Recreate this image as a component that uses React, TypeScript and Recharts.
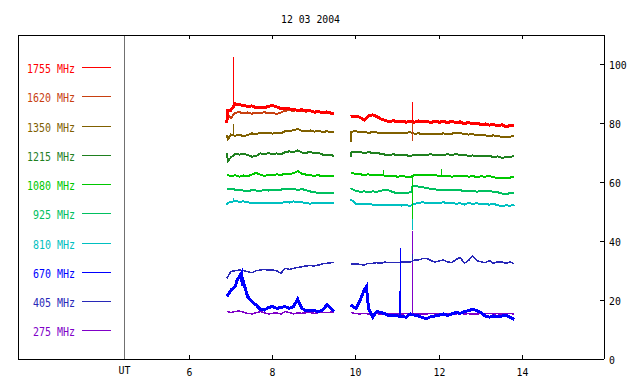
import React from 'react';
import { LineChart, Line, XAxis, YAxis, ReferenceLine, Legend } from 'recharts';

const TITLE = '12 03 2004';
const UT_LABEL = 'UT';
const UT_HOUR = 4.433;
const X_DOMAIN = [1.889, 15.952];
const X_TICKS = [6, 8, 10, 12, 14];
const Y_DOMAIN = [0, 110];
const Y_TICKS = [0, 20, 40, 60, 80, 100];
const GAP_HOUR = 9.67;

const hours1 = [6.9, 7.0, 7.1, 7.2, 7.3, 7.4, 7.5, 7.6, 7.7, 7.8, 7.9, 8.0, 8.1, 8.2, 8.3, 8.4, 8.5, 8.6, 8.7, 8.8, 8.9, 9.0, 9.1, 9.2, 9.3, 9.4, 9.47];
const hours2 = [9.87, 10.0, 10.1, 10.2, 10.3, 10.4, 10.5, 10.6, 10.7, 10.8, 10.9, 11.0, 11.1, 11.2, 11.3, 11.4, 11.5, 11.6, 11.7, 11.8, 11.9, 12.0, 12.1, 12.2, 12.3, 12.4, 12.5, 12.6, 12.7, 12.8, 12.9, 13.0, 13.1, 13.2, 13.3, 13.4, 13.5, 13.6, 13.7, 13.8];

// 1755 MHz
const f1755a = [80.0, 84.5, 86.6, 86.4, 86.0, 85.8, 85.9, 85.4, 85.5, 85.3, 85.8, 86.0, 85.6, 85.0, 85.2, 84.9, 84.7, 84.4, 84.6, 84.2, 84.3, 83.8, 84.0, 83.6, 83.9, 83.5, 83.1];
const f1755b = [82.3, 82.5, 82.0, 81.2, 82.6, 82.9, 82.3, 81.5, 81.0, 80.6, 80.9, 80.5, 80.8, 80.4, 80.7, 80.4, 80.8, 80.5, 80.6, 80.3, 80.7, 80.4, 80.6, 80.3, 80.7, 80.2, 80.5, 79.9, 80.3, 79.8, 80.1, 79.6, 79.8, 79.4, 79.6, 79.2, 79.5, 78.8, 79.3, 79.4];
const t1755 = [[6.92, 84.3]];
const s1755 = [[[7.05, 85.6], [7.056, 102.6], [7.062, 86.4]], [[11.345, 80.6], [11.35, 87.2], [11.355, 80.5]]];

// 1620 MHz
const f1620a = [83.5, 81.8, 83.6, 83.8, 83.4, 83.7, 83.3, 83.6, 83.5, 83.8, 83.4, 83.6, 83.2, 83.7, 84.3, 84.5, 84.2, 84.6, 84.3, 84.0, 84.2, 83.7, 83.9, 83.5, 83.7, 83.3, 83.0];
const f1620b = [null, null, null, null, null, null, null, null, null, null, null, null, null, null, null, null, null, null, null, null, null, null, null, null, null, null, null, null, null, null, null, null, null, null, null, null, null, null, null, null];
const t1620 = [];
const s1620 = [[[11.345, 80.4], [11.35, 74.1], [11.355, 80.4]]];

// 1350 MHz
const f1350a = [76.0, 76.2, 75.8, 76.1, 75.7, 76.0, 76.6, 76.3, 76.9, 76.6, 76.8, 76.5, 76.9, 76.7, 77.3, 77.5, 77.6, 78.1, 77.5, 77.3, 77.6, 77.2, 77.4, 77.1, 77.3, 77.0, 77.2];
const f1350b = [73.8, 77.3, 77.0, 77.1, 76.8, 77.0, 76.9, 76.7, 76.9, 76.6, 76.8, 76.7, 76.9, 76.8, 77.0, 76.5, 76.6, 76.4, 76.5, 76.3, 76.5, 76.4, 76.6, 76.4, 76.5, 76.9, 76.7, 76.4, 76.2, 76.3, 76.0, 76.1, 75.9, 75.8, 75.9, 75.6, 75.5, 75.2, 75.5, 75.7];
const t1350 = [[6.93, 74.7], [9.89, 77.2]];
const s1350 = [[[7.05, 76.1], [7.056, 79.8], [7.062, 76.0]]];

// 1215 MHz
const f1215a = [69.8, 68.5, 69.6, 69.4, 69.7, 69.3, 68.7, 68.9, 69.8, 69.5, 69.9, 69.6, 69.8, 69.5, 70.2, 70.5, 70.3, 70.8, 70.1, 70.0, 70.3, 69.8, 70.0, 69.4, 69.1, 69.3, 68.9];
const f1215b = [68.7, 70.1, 70.3, 69.9, 70.2, 70.0, 70.1, 69.6, 69.4, 69.3, 69.5, 69.2, 69.4, 69.2, 68.9, 69.4, 69.2, 69.4, 69.3, 69.5, 69.2, 69.4, 69.3, 69.5, 69.2, 69.7, 69.1, 69.3, 69.0, 69.1, 68.9, 69.1, 68.8, 68.9, 68.6, 68.8, 68.3, 68.5, 68.7, 68.8];
const t1215 = [[6.93, 67.2], [9.89, 70.2]];
const s1215 = [];

// 1080 MHz
const f1080a = [62.7, 62.0, 62.4, 61.9, 62.3, 62.0, 62.6, 63.2, 62.6, 62.2, 62.5, 62.3, 62.7, 62.5, 62.9, 62.7, 63.1, 63.8, 62.9, 62.6, 62.4, 62.2, 62.4, 62.0, 62.3, 62.1, 62.3];
const f1080b = [63.1, 62.9, 62.7, 62.5, 62.7, 62.4, 62.6, 62.5, 62.2, 62.0, 62.1, 61.9, 62.1, 61.9, 61.7, 62.4, 62.6, 62.4, 62.5, 62.3, 62.4, 62.2, 62.1, 62.2, 61.9, 62.1, 62.0, 62.2, 61.9, 62.1, 61.8, 62.0, 61.9, 62.1, 61.7, 61.5, 61.6, 61.3, 61.6, 61.9];
const t1080 = [];
const s1080 = [[[10.655, 62.5], [10.66, 64.2], [10.665, 62.4]], [[11.345, 61.9], [11.35, 47.4], [11.355, 62.4]], [[12.055, 62.3], [12.06, 64.6], [12.065, 62.2]]];

// 925 MHz
const f925a = [57.6, 57.8, 57.5, 57.3, 57.2, 57.0, 57.3, 57.2, 57.1, 57.3, 57.2, 57.4, 57.2, 57.5, 57.8, 57.6, 57.7, 57.4, 57.7, 57.3, 56.9, 56.6, 56.4, 56.5, 56.2, 56.4, 56.3];
const f925b = [58.0, 57.0, 56.8, 56.9, 56.7, 56.9, 56.8, 57.1, 57.5, 57.2, 56.6, 56.3, 56.2, 56.4, 56.6, 58.8, 58.5, 58.3, 58.0, 57.8, 57.6, 57.4, 57.4, 57.3, 57.4, 57.2, 57.3, 57.0, 57.2, 57.1, 56.8, 57.0, 56.9, 57.0, 56.8, 56.6, 56.2, 56.0, 56.3, 56.4];
const t925 = [[11.345, 56.6], [11.355, 58.6]];
const s925 = [];

// 810 MHz
const f810a = [52.3, 53.3, 53.7, 53.4, 53.5, 53.2, 53.0, 53.1, 52.8, 53.0, 52.9, 53.1, 52.8, 53.0, 53.3, 53.1, 53.5, 53.3, 53.2, 53.0, 52.7, 53.1, 52.9, 53.0, 52.9, 53.1, 53.0];
const f810b = [54.2, 52.7, 52.6, 52.5, 52.6, 52.4, 52.3, 52.4, 52.2, 52.3, 52.2, 52.3, 52.1, 52.2, 52.0, 52.6, 53.0, 53.2, 53.0, 53.1, 52.9, 53.0, 53.2, 52.9, 53.1, 52.7, 52.9, 52.4, 53.0, 52.6, 52.9, 52.5, 52.7, 52.4, 52.6, 52.3, 51.8, 52.2, 52.0, 52.4];
const t810 = [[6.93, 53.0]];
const s810 = [[[7.05, 53.4], [7.056, 54.6], [7.062, 53.6]], [[11.345, 52.1], [11.35, 43.8], [11.355, 52.4]]];

// 670 MHz
const f670a = [21.2, 23.4, 24.6, 27.9, 26.2, 21.2, 19.5, 18.4, 16.9, 16.6, 17.5, 17.8, 17.2, 17.5, 17.8, 17.2, 17.8, 20.3, 17.2, 16.4, 16.6, 16.4, 16.1, 16.6, 18.4, 17.2, 16.1];
const f670b = [18.3, 17.2, 20.0, 23.5, 17.2, 14.2, 16.1, 15.8, 15.3, 14.6, 14.9, 14.6, 14.4, 14.2, 15.3, 14.9, 14.6, 14.0, 13.7, 14.4, 14.6, 14.9, 15.3, 14.8, 15.3, 15.8, 15.5, 16.1, 16.4, 16.9, 16.4, 15.8, 14.6, 14.2, 14.6, 14.4, 14.6, 14.8, 14.2, 13.5];
const t670 = [[7.15, 26.8], [7.25, 29.1], [7.27, 25.0], [10.25, 24.6]];
const s670 = [[[11.055, 14.7], [11.06, 37.6], [11.065, 14.6]]];

// 405 MHz
const f405a = [27.4, 29.7, 30.0, 30.2, 30.0, 29.7, 29.3, 30.0, 30.2, 30.4, 30.2, 30.2, 29.9, 29.1, 30.8, 30.4, 30.8, 31.1, 31.3, 31.6, 31.7, 31.6, 31.9, 32.3, 32.5, 32.7, 32.8];
const f405b = [32.3, 32.3, 32.1, 31.9, 32.5, 32.5, 32.7, 32.5, 32.9, 32.7, 32.8, 32.7, 32.9, 32.9, 32.9, 33.6, 33.6, 34.1, 34.2, 33.4, 32.9, 33.3, 33.6, 33.0, 32.7, 33.8, 34.5, 32.5, 33.4, 35.0, 33.4, 33.0, 32.7, 33.4, 32.5, 33.0, 32.9, 32.5, 32.9, 32.3];
const t405 = [];
const s405 = [[[11.345, 33.1], [11.35, 35.6], [11.355, 33.3]]];

// 275 MHz
const f275a = [16.1, 15.8, 16.1, 16.3, 15.9, 15.5, 15.3, 15.7, 16.1, 15.7, 15.3, 15.5, 15.7, 15.2, 16.1, 15.8, 15.3, 15.7, 15.5, 15.7, 15.8, 15.5, 15.7, 15.8, 15.7, 15.9, 15.9];
const f275b = [15.8, 15.4, 15.3, 15.5, 15.3, 15.2, 15.4, 15.3, 15.5, 15.3, 15.4, 15.2, 15.3, 15.4, 15.3, 15.3, 15.4, 15.2, 15.3, 15.5, 15.3, 15.4, 15.3, 15.2, 15.4, 15.3, 15.5, 15.3, 15.4, 15.2, 15.3, 15.4, 15.3, 15.5, 15.3, 15.4, 15.2, 15.3, 15.4, 15.3];
const t275 = [];
const s275 = [[[11.345, 15.4], [11.35, 43.5], [11.355, 15.3]]];

const SERIES = [
  { name: '1755 MHz', color: '#ff0000', a: f1755a, b: f1755b, tail: t1755, spikes: s1755, width: 3 },
  { name: '1620 MHz', color: '#c84010', a: f1620a, b: f1620b, tail: t1620, spikes: s1620, width: 2 },
  { name: '1350 MHz', color: '#806000', a: f1350a, b: f1350b, tail: t1350, spikes: s1350, width: 2 },
  { name: '1215 MHz', color: '#1f801f', a: f1215a, b: f1215b, tail: t1215, spikes: s1215, width: 2 },
  { name: '1080 MHz', color: '#00c800', a: f1080a, b: f1080b, tail: t1080, spikes: s1080, width: 2 },
  { name: '925 MHz', color: '#00c060', a: f925a, b: f925b, tail: t925, spikes: s925, width: 2 },
  { name: '810 MHz', color: '#00c0c0', a: f810a, b: f810b, tail: t810, spikes: s810, width: 2 },
  { name: '670 MHz', color: '#0000ff', a: f670a, b: f670b, tail: t670, spikes: s670, width: 3 },
  { name: '405 MHz', color: '#2828b8', a: f405a, b: f405b, tail: t405, spikes: s405, width: 1.5 },
  { name: '275 MHz', color: '#8000c8', a: f275a, b: f275b, tail: t275, spikes: s275, width: 1.5 },
];

function buildPoints(s: any) {
  const pts: { t: number; v: number | null }[] = [];
  hours1.forEach((t, i) => pts.push({ t, v: s.a[i] }));
  pts.push({ t: GAP_HOUR, v: null });
  hours2.forEach((t, i) => pts.push({ t, v: s.b[i] }));
  s.tail.forEach((p: number[]) => pts.push({ t: p[0], v: p[1] }));
  pts.sort((p, q) => p.t - q.t);
  return pts;
}

function buildSpikes(s: any) {
  const pts: { t: number; v: number | null }[] = [];
  s.spikes.forEach((tri: number[][]) => {
    tri.forEach((p) => pts.push({ t: p[0], v: p[1] }));
    pts.push({ t: tri[tri.length - 1][0] + 0.001, v: null });
  });
  return pts;
}

const FONT = '"DejaVu Sans Mono", monospace';

function BottomTick(props: any) {
  const { x, y, payload } = props;
  const cx = Math.floor(x) + 0.5;
  if (payload.value === UT_HOUR) {
    return (
      <text x={cx} y={y + 15} textAnchor="middle" fontFamily={FONT} fontSize={11} fill="#000" textLength={12} lengthAdjust="spacingAndGlyphs">
        {UT_LABEL}
      </text>
    );
  }
  const label = String(payload.value);
  return (
    <g>
      <line x1={cx} x2={cx} y1={y} y2={y - 4} stroke="#000" />
      <text x={cx} y={y + 17} textAnchor="middle" fontFamily={FONT} fontSize={11} fill="#000" textLength={label.length * 5.9} lengthAdjust="spacingAndGlyphs">
        {label}
      </text>
    </g>
  );
}

function TopTick(props: any) {
  const { x, y } = props;
  const cx = Math.floor(x) + 0.5;
  return <line x1={cx} x2={cx} y1={y} y2={y + 4} stroke="#000" />;
}

function RightTick(props: any) {
  const { x, y, payload } = props;
  const cy = Math.floor(y) + 0.5;
  const label = String(payload.value);
  return (
    <g>
      <line x1={x - 4} x2={x} y1={cy} y2={cy} stroke="#000" />
      <text x={x + 5} y={cy + 4} textAnchor="start" fontFamily={FONT} fontSize={11} fill="#000" textLength={label.length * 5.9} lengthAdjust="spacingAndGlyphs">
        {label}
      </text>
    </g>
  );
}

function LegendBox(props: any) {
  const payload = props.payload || [];
  const items = SERIES.map((s) => {
    const p = payload.find((q: any) => q.value === s.name);
    return { name: s.name, color: p && p.color ? p.color : s.color };
  });
  return (
    <svg width={130} height={384} style={{ display: 'block' }}>
      {items.map((it, i) => {
        const y = Math.round(67 + i * 29.25) + 0.5;
        return (
          <g key={it.name}>
            <text x={75} y={y + 5} textAnchor="end" fill={it.color} fontFamily={FONT} fontSize={12} textLength={it.name.length * 6} lengthAdjust="spacingAndGlyphs">
              {it.name}
            </text>
            <line x1={82} x2={111} y1={y} y2={y} stroke={it.color} />
          </g>
        );
      })}
    </svg>
  );
}

export default function App() {
  const drawOrder = [...SERIES].reverse();
  return (
    <div style={{ position: 'absolute', left: 0, top: 0, width: 640, height: 384, background: '#fff', shapeRendering: 'crispEdges' as any }}>
      <LineChart width={640} height={384} margin={{ top: 34, right: 0, bottom: 0, left: 17 }}>
        <XAxis
          xAxisId="b"
          type="number"
          dataKey="t"
          domain={X_DOMAIN}
          allowDataOverflow
          ticks={[UT_HOUR, ...X_TICKS]}
          interval={0}
          height={25}
          tickSize={0}
          tickMargin={0}
          tick={<BottomTick />}
          axisLine={{ stroke: '#000' }}
          tickLine={false}
        />
        <XAxis
          xAxisId="t"
          orientation="top"
          type="number"
          dataKey="t"
          domain={X_DOMAIN}
          allowDataOverflow
          ticks={X_TICKS}
          interval={0}
          height={1}
          tickSize={0}
          tickMargin={0}
          tick={<TopTick />}
          axisLine={{ stroke: '#000' }}
          tickLine={false}
        />
        <YAxis
          yAxisId="r"
          orientation="right"
          type="number"
          domain={Y_DOMAIN}
          allowDataOverflow
          ticks={Y_TICKS}
          interval={0}
          width={36}
          tickSize={0}
          tickMargin={0}
          tick={<RightTick />}
          axisLine={{ stroke: '#000' }}
          tickLine={false}
        />
        <YAxis yAxisId="l" orientation="left" type="number" domain={Y_DOMAIN} width={1} ticks={Y_TICKS} tick={false} tickLine={false} axisLine={{ stroke: '#000' }} />
        <ReferenceLine xAxisId="b" yAxisId="r" x={UT_HOUR} stroke="#707070" />
        {drawOrder.map((s) => (
          <Line
            key={s.name}
            name={s.name}
            xAxisId="b"
            yAxisId="r"
            data={buildPoints(s)}
            dataKey="v"
            type="linear"
            stroke={s.color}
            strokeWidth={s.width}
            dot={false}
            activeDot={false}
            connectNulls={false}
            isAnimationActive={false}
          />
        ))}
        {drawOrder
          .filter((s) => s.spikes.length > 0)
          .map((s) => (
            <Line
              key={s.name + ' spikes'}
              name={s.name + ' spikes'}
              legendType="none"
              xAxisId="b"
              yAxisId="r"
              data={buildSpikes(s)}
              dataKey="v"
              type="linear"
              stroke={s.color}
              strokeWidth={1}
              dot={false}
              activeDot={false}
              connectNulls={false}
              isAnimationActive={false}
            />
          ))}
        <Legend
          layout="horizontal"
          verticalAlign="middle"
          align="center"
          content={<LegendBox />}
          wrapperStyle={{ left: 0, top: 0, width: 130, height: 384 }}
        />
      </LineChart>
      <svg width={640} height={30} style={{ position: 'absolute', left: 0, top: 0, pointerEvents: 'none' }}>
        <text x={310.5} y={23} textAnchor="middle" fontFamily={FONT} fontSize={10} fill="#000" textLength={59} lengthAdjust="spacingAndGlyphs">
          {TITLE}
        </text>
      </svg>
    </div>
  );
}
